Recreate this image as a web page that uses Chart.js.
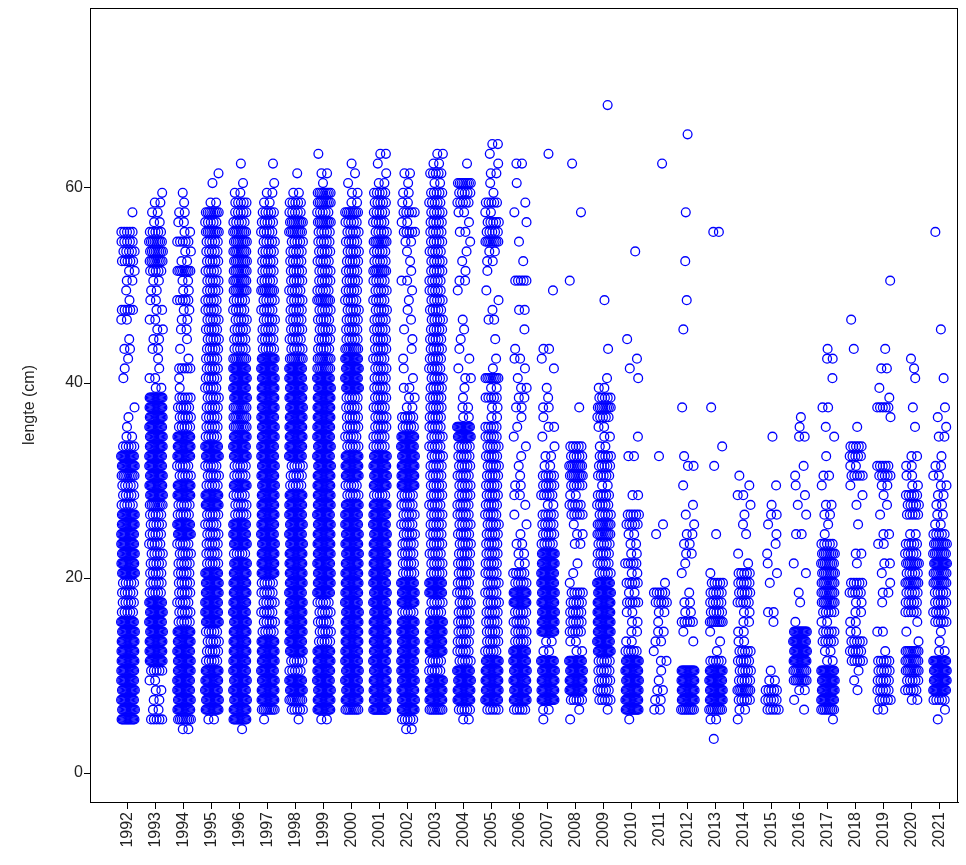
<!DOCTYPE html>
<html><head><meta charset="utf-8">
<script src="https://cdn.jsdelivr.net/npm/chart.js@4/dist/chart.umd.min.js"></script>
<style>html,body{margin:0;padding:0;background:#fff}#wrap{width:966px;height:865px}</style>
</head><body><div id="wrap"><canvas id="c" width="966" height="865"></canvas></div>
<script>
// Years (categories)
const years = [1992,1993,1994,1995,1996,1997,1998,1999,2000,2001,2002,2003,2004,2005,2006,
               2007,2008,2009,2010,2011,2012,2013,2014,2015,2016,2017,2018,2019,2020,2021];
// Length classes start at 3.5 cm, 1 cm apart; arrays hold the visible density (0-5) per class.
const firstLength = 3.5;
const yTicks = [0, 20, 40, 60];
const yTitle = 'lengte (cm)';

const c1992 = [0,0,5,5,5,5,5,5,5,5, 5,5,5,3,3,3,3,5,5,5, 5,5,5,5,3,3,3,4,5,5, 3,2,1,1,1,0,0,1,1,1, 2,1,0,2,3,1,1,2,2,3, 3,3,3,0,1,0,0,0,0,0];
const c1993 = [0,0,3,2,2,2,2,3,5,5, 5,5,5,5,5,3,3,3,3,3, 3,3,3,3,4,5,5,5,5,5, 5,5,5,5,5,5,2,2,1,1, 2,2,2,2,2,2,2,2,3,4, 4,4,3,2,2,2,1,0,0,0];
const c1994 = [0,2,4,5,5,5,5,5,5,5, 5,5,3,3,3,3,3,3,3,3, 3,5,5,3,3,5,5,3,3,5, 5,5,3,3,3,3,1,1,3,1, 1,1,2,2,2,3,2,2,4,2, 2,3,2,2,2,1,1,0,0,0];
const c1995 = [0,0,2,5,5,5,5,5,3,3, 3,3,5,5,5,5,5,5,3,3, 3,3,3,3,5,5,3,3,3,5, 5,3,3,3,3,3,3,3,3,3, 3,3,3,3,3,3,3,3,3,3, 3,3,4,3,4,2,0,1,1,0];
const c1996 = [0,1,5,5,5,5,5,5,5,5, 5,5,5,5,5,5,5,5,5,3, 5,5,5,3,3,3,5,3,3,5, 5,5,4,4,4,5,5,5,5,4, 3,3,3,3,3,3,4,4,4,4, 4,4,4,3,3,3,2,1,0,1];
const c1997 = [0,0,1,4,5,5,5,5,5,5, 5,3,3,3,3,3,3,5,5,5, 5,5,5,5,5,5,5,5,5,5, 5,5,5,5,5,5,5,5,5,5, 3,3,3,3,3,3,4,3,3,3, 3,3,3,3,3,2,2,1,0,1];
const c1998 = [0,0,1,3,4,5,5,3,3,5, 5,5,5,5,5,5,5,5,5,5, 5,5,5,5,5,5,3,3,3,5, 5,5,5,5,5,5,5,5,5,4, 3,3,3,3,3,3,3,3,3,3, 3,3,4,4,3,3,2,0,1,0];
const c1999 = [0,0,2,5,5,5,5,5,5,5, 3,3,3,3,3,5,5,5,5,5, 5,5,5,5,5,5,5,5,5,5, 5,5,5,5,5,5,5,5,4,4, 3,3,3,3,3,4,3,3,3,3, 3,3,3,4,3,4,4,1,2,0, 1];
const c2000 = [0,0,0,4,5,5,5,5,5,5, 5,5,5,5,5,5,5,5,5,5, 5,5,5,5,5,3,3,5,5,5, 3,3,3,3,3,3,5,5,5,5, 4,3,3,3,3,3,3,3,3,3, 3,3,3,3,4,2,2,1,1,1];
const c2001 = [0,0,0,5,5,5,5,5,5,5, 5,5,5,5,5,5,5,5,5,5, 5,5,5,5,5,3,5,5,5,5, 3,3,3,3,3,3,3,3,3,3, 3,3,3,3,3,3,3,3,4,3, 3,4,3,3,3,3,3,2,1,1, 2];
const c2002 = [0,2,3,5,5,5,5,5,5,5, 5,5,5,3,5,5,5,3,3,3, 3,3,3,3,3,3,5,5,5,5, 5,5,3,3,2,2,2,1,1,1, 1,1,1,1,1,1,1,2,1,1, 1,2,3,2,3,2,2,1,2,0];
const c2003 = [0,0,0,4,5,5,5,3,3,5, 5,5,5,3,3,5,5,3,3,3, 3,3,3,3,3,3,3,3,3,3, 3,3,3,3,3,3,3,3,3,3, 3,3,3,3,3,3,3,3,3,3, 3,3,3,3,3,3,3,2,3,2, 2];
const c2004 = [0,0,2,3,5,5,5,5,3,3, 3,3,3,3,3,3,3,3,3,3, 3,3,3,3,3,3,3,3,3,3, 3,5,5,2,2,1,1,2,1,1, 1,1,1,1,0,0,1,2,1,1, 1,1,2,1,2,3,3,4,0,1];
const c2005 = [0,0,0,3,5,5,5,5,5,3, 3,3,3,3,3,3,3,3,3,3, 3,3,3,3,3,3,3,3,3,3, 3,3,3,2,2,3,2,4,1,1, 0,1,0,2,1,1,1,0,1,2, 2,4,3,3,2,3,1,1,2,1, 1,2];
const c2006 = [0,0,0,3,5,5,5,5,5,5, 3,3,3,3,5,5,3,3,2,2, 2,1,1,1,1,2,2,1,1,1, 1,1,1,1,2,2,2,1,1,2, 1,0,1,0,2,0,0,3,0,1, 0,1,0,1,1,1,0,1,0,2];
const c2007 = [0,0,1,2,5,5,5,5,5,2, 2,5,5,5,5,5,5,5,5,5, 3,3,3,3,2,3,3,3,2,2, 1,1,2,1,2,1,1,0,1,1, 2,0,0,0,0,0,1,0,0,0, 0,0,0,0,0,0,0,0,0,0, 1];
const c2008 = [0,0,1,1,3,5,5,5,5,2, 2,3,3,3,3,3,1,1,1,0, 2,2,1,3,3,2,3,4,4,3, 3,0,0,0,1,0,0,0,0,0, 0,0,0,0,0,0,0,1,0,0, 0,0,0,0,1,0,0,0,0,1];
const c2009 = [0,0,0,1,3,3,3,3,3,5, 5,5,5,5,5,5,5,3,3,3, 3,4,4,3,3,3,2,3,3,3, 2,2,2,3,4,3,2,1,0,0, 1,0,0,0,0,1,0,0,0,0, 0,0,0,0,0,0,0,0,0,0, 0,0,0,0,0,1];
const c2010 = [0,0,1,5,5,5,5,5,5,3, 2,2,2,2,3,2,3,2,3,2, 2,2,3,3,0,2,0,0,0,2, 0,1,0,0,0,0,0,1,1,1, 0,1,0,0,0,0,0,0,0,0, 1];
const c2011 = [0,0,0,2,2,2,1,1,2,1, 2,2,1,2,3,3,1,0,0,0, 0,1,1,0,0,0,0,0,0,1, 0,0,0,0,0,0,0,0,0,0, 0,0,0,0,0,0,0,0,0,0, 0,0,0,0,0,0,0,0,0,1];
const c2012 = [0,0,0,4,5,5,5,5,0,0, 1,1,3,2,2,1,0,1,1,2, 2,2,1,1,1,0,1,0,2,1, 0,0,0,0,1,0,0,0,0,0, 0,0,1,0,0,1,0,0,0,1, 0,0,0,0,1,0,0,0,0,0, 0,0,1];
const c2013 = [1,0,2,4,5,5,5,5,3,1, 1,1,4,3,3,3,3,1,0,0, 0,1,0,0,0,0,0,0,1,0, 1,0,0,0,1,0,0,0,0,0, 0,0,0,0,0,0,0,0,0,0, 0,0,2];
const c2014 = [0,0,1,2,3,4,3,3,3,3, 2,2,2,2,3,3,3,3,1,1, 0,1,1,1,1,2,1,1,0,0];
const c2015 = [0,0,0,3,3,3,2,1,0,0, 0,0,1,2,0,0,1,1,1,1, 1,1,1,2,1,0,1,0,0,0, 0,1];
const c2016 = [0,0,0,1,1,2,4,4,5,5, 5,5,1,0,1,1,0,1,1,0, 0,2,0,1,1,1,1,1,1,0, 0,2,1,1];
const c2017 = [0,0,1,4,5,5,5,5,2,2, 3,3,2,3,4,4,4,4,4,4, 3,1,1,2,2,0,1,2,0,1, 0,1,1,0,2,0,0,1,0,2, 1];
const c2018 = [0,0,0,0,0,1,1,1,3,3, 3,2,2,2,2,3,3,0,1,2, 0,0,1,0,1,1,1,3,2,3, 3,0,1,0,0,0,0,0,0,0, 1,0,0,1];
const c2019 = [0,0,0,2,3,3,3,3,3,1, 0,2,0,0,1,2,1,1,2,0, 2,2,0,1,1,1,2,3,3,0, 0,0,0,1,3,1,1,0,2,0, 1,0,0,0,0,0,0,1];
const c2020 = [0,0,0,0,2,3,3,4,4,4, 1,1,1,3,3,3,4,3,4,3, 3,2,0,3,3,3,2,2,2,2, 0,0,1,0,1,0,0,1,1,1];
const c2021 = [0,0,1,1,3,5,5,5,5,2, 1,1,3,3,3,3,4,4,5,4, 4,3,2,2,2,2,2,2,2,1, 0,2,1,1,1,0,0,1,0,0, 0,0,1,0,0,0,0,0,0,0, 0,0,1];

const countsByYear = [c1992,c1993,c1994,c1995,c1996,c1997,c1998,c1999,c2000,c2001,c2002,c2003,c2004,c2005,c2006,
                      c2007,c2008,c2009,c2010,c2011,c2012,c2013,c2014,c2015,c2016,c2017,c2018,c2019,c2020,c2021];

// ---- layout / styling helpers (not data) ----
const CIRCLES_FOR_DENSITY = [0,1,2,5,8,12];
const SPREAD = [0.31,-0.72,0.88,-0.15,0.54,-0.93,0.07,0.66,-0.41,0.97,-0.58,0.22,-0.84,0.45,-0.27,0.79,-0.06,0.38,-0.69,0.13,0.92,-0.49,0.61,-0.33,0.02,-0.87,0.74,-0.19,0.48,-0.64,0.18];

function buildPoints(){
  const pts = [];
  years.forEach((yr, yi) => {
    countsByYear[yi].forEach((d, i) => {
      const m = CIRCLES_FOR_DENSITY[d] || 0;
      if (!m) return;
      const L = firstLength + i;
      const r = SPREAD[(yi*7 + i*3) % SPREAD.length];
      if (m === 1) { pts.push({x: yr + r*0.24, y: L}); return; }
      const span = Math.min(0.46, 0.6*(m-1)/(m+1));
      const shift = r*(0.5 - span)/2;
      for (let j = 0; j < m; j++) {
        pts.push({x: yr - span/2 + span*j/(m-1) + shift, y: L});
      }
    });
  });
  return pts;
}

const boxPlugin = {
  id: 'box',
  afterDraw(chart){
    const a = chart.chartArea, ctx = chart.ctx;
    ctx.save(); ctx.strokeStyle = '#000'; ctx.lineWidth = 1;
    ctx.strokeRect(Math.round(a.left)+0.5, Math.round(a.top)+0.5, Math.round(a.right-a.left)-1, Math.round(a.bottom-a.top));
    ctx.restore();
  }
};

const FONT = 'Liberation Sans, Arial, sans-serif';
new Chart(document.getElementById('c'), {
  type: 'scatter',
  data: { datasets: [{
    data: buildPoints(),
    pointStyle: 'circle', pointRadius: 4.4, pointBorderWidth: 1.3,
    borderColor: '#0000ff', backgroundColor: 'rgba(0,0,0,0)',
    pointBorderColor: '#0000ff', pointBackgroundColor: 'rgba(0,0,0,0)', showLine: false
  }]},
  options: {
    responsive: false, animation: false, events: [],
    layout: { padding: { top: 8, right: 8, left: 0, bottom: 0 } },
    plugins: { legend: { display: false }, tooltip: { enabled: false } },
    scales: {
      x: {
        type: 'linear', min: 1990.643, max: 2021.643,
        afterBuildTicks: s => { s.ticks = years.map(v => ({ value: v })); },
        afterFit: s => { s.height = 63; s.paddingLeft = 0; s.paddingRight = 0; },
        ticks: { autoSkip: false, minRotation: 90, maxRotation: 90, color: '#222', padding: 3,
                 font: { family: FONT, size: 16 }, callback: v => String(v) },
        grid: { display: true, drawOnChartArea: false, drawTicks: true, tickLength: 7, color: '#000' },
        border: { display: true, color: '#000' }
      },
      y: {
        min: -2.97, max: 78.46,
        afterBuildTicks: s => { s.ticks = yTicks.map(v => ({ value: v })); },
        afterFit: s => { s.width = 90; s.paddingTop = 0; s.paddingBottom = 0; },
        ticks: { color: '#222', padding: 1, font: { family: FONT, size: 16 }, callback: v => String(v) },
        grid: { display: true, drawOnChartArea: false, drawTicks: true, tickLength: 6, color: '#000' },
        border: { display: true, color: '#000' },
        title: { display: true, text: yTitle, color: '#222', font: { family: FONT, size: 16 }, padding: { top: 20, bottom: 0 } }
      }
    }
  },
  plugins: [boxPlugin]
});
</script></body></html>
